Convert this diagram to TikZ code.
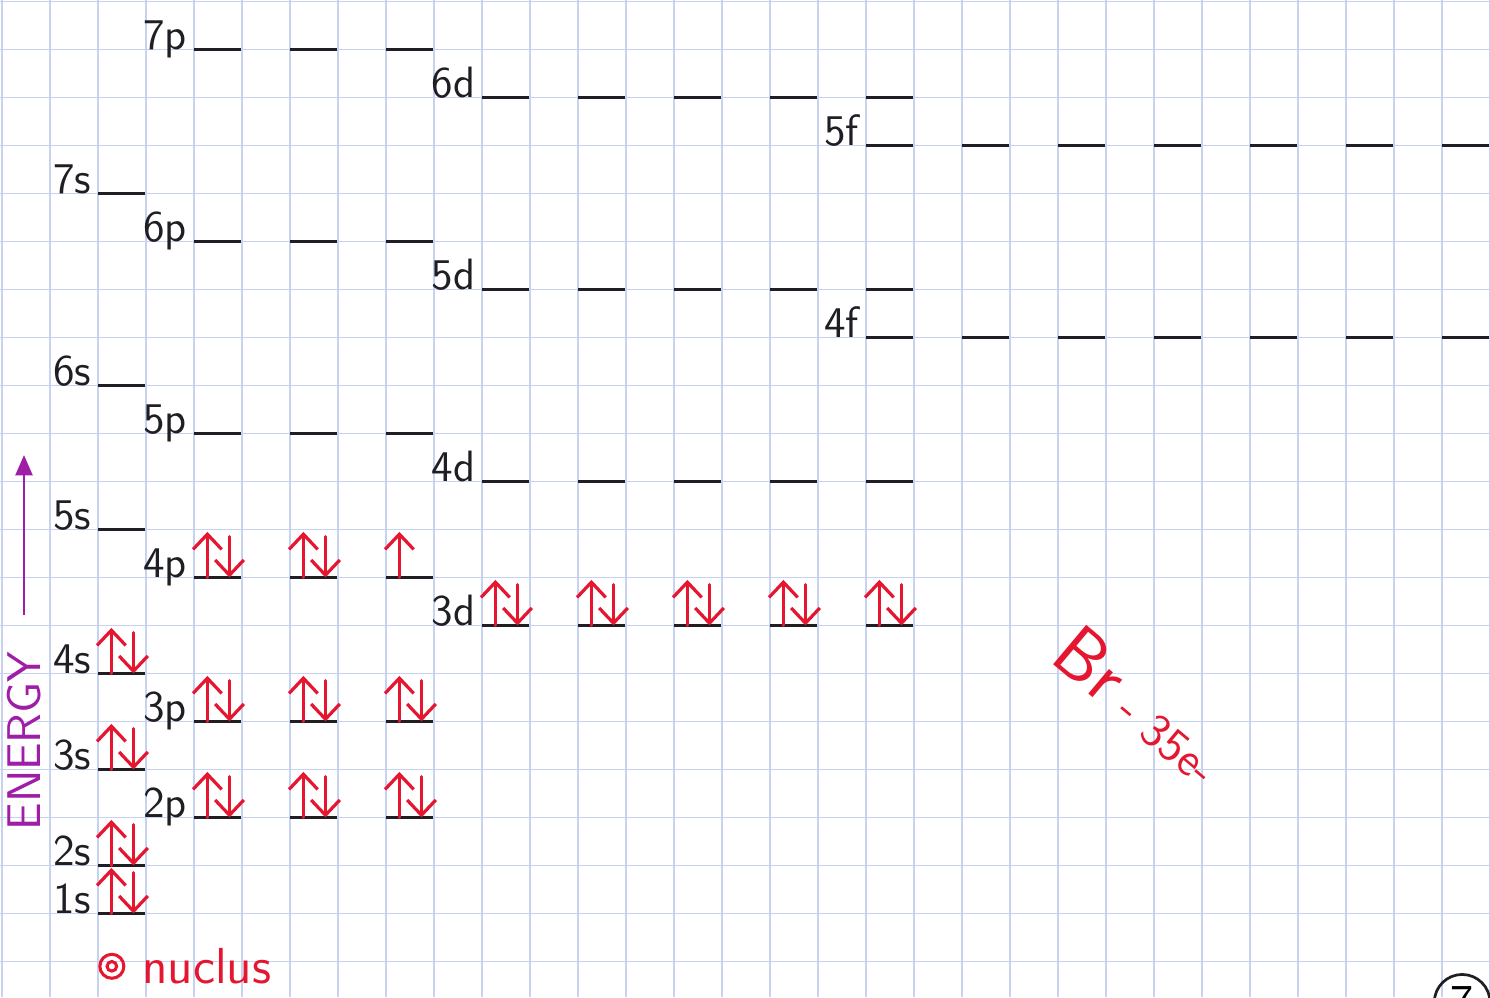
\documentclass[tikz,border=0pt]{standalone}
\usepackage{fontspec}
\usepackage{xcolor}
\usepackage{tikz}
\usetikzlibrary{arrows.meta,positioning,calc}
\definecolor{gridblue}{RGB}{198,210,238}
\definecolor{penred}{RGB}{228,22,48}
\definecolor{penviolet}{RGB}{158,30,168}
\definecolor{penblack}{RGB}{30,30,36}
\newcommand{\fullorb}[2]{%
  \draw[spin] (#1+0.28,-#2) -- ++(0,0.95);
  \draw[spin] (#1+0.74,-#2+0.85) -- ++(0,-0.85);}
\newcommand{\halforb}[2]{\draw[spin] (#1+0.28,-#2) -- ++(0,0.95);}

\begin{document}
\begin{tikzpicture}[
    x=0.5cm, y=0.5cm,
    gridline/.style={draw=gridblue, line width=0.35pt},
    level/.style={draw=penblack, line width=0.9pt},
    lbl/.style={font=\sffamily\fontsize{13}{15}\selectfont, text=penblack, inner sep=0pt},
    spin/.style={draw=penred, line width=0.95pt, line cap=round, -{Straight Barb[length=4.5pt,width=8.5pt,line width=0.95pt]}},
    energyarrow/.style={draw=penviolet, line width=0.8pt, -{Triangle[length=6pt,width=5pt]}},
    energytxt/.style={text=penviolet, font=\sffamily\fontsize{14}{16}\selectfont, inner sep=0pt},
    handred/.style={text=penred, inner sep=0pt},
    nucring/.style={circle, draw=penred, line width=0.9pt, inner sep=0pt},
    pagemark/.style={circle, draw=penblack, line width=0.8pt, minimum size=0.58cm, inner sep=0pt, font=\sffamily\fontsize{14}{16}\selectfont}
]
\useasboundingbox (-0.04,0.03) rectangle (31.0,-20.74);
\fill[white] (-0.04,0.03) rectangle (31.0,-20.74);
\draw[gridline, step=0.5cm] (-0.04,0.03) grid (31.0,-20.74);

\foreach \n/\k/\cols in {7p/1/{4,6,8}, 6d/2/{10,12,14,16,18}, 5f/3/{18,20,22,24,26,28,30},
    7s/4/{2}, 6p/5/{4,6,8}, 5d/6/{10,12,14,16,18}, 4f/7/{18,20,22,24,26,28,30},
    6s/8/{2}, 5p/9/{4,6,8}, 4d/10/{10,12,14,16,18}, 5s/11/{2}, 4p/12/{4,6,8},
    3d/13/{10,12,14,16,18}, 4s/14/{2}, 3p/15/{4,6,8}, 3s/16/{2}, 2p/17/{4,6,8},
    2s/18/{2}, 1s/19/{2}}{
  \foreach \c [count=\i] in \cols {
    \ifnum\i=1 \node[lbl, anchor=base east] (l\n) at (\c-0.13,-\k) {\n}; \fi
    \draw[level] (\c,-\k) -- ++(0.98,0);
  }
}

\fullorb{2}{19}
\fullorb{2}{18}
\fullorb{4}{17} \fullorb{6}{17} \fullorb{8}{17}
\fullorb{2}{16}
\fullorb{4}{15} \fullorb{6}{15} \fullorb{8}{15}
\fullorb{2}{14}
\fullorb{10}{13} \fullorb{12}{13} \fullorb{14}{13} \fullorb{16}{13} \fullorb{18}{13}
\fullorb{4}{12} \fullorb{6}{12} \halforb{8}{12}

\coordinate (ebot) at (0.46,-12.78);
\coordinate (etop) at (0.46,-9.45);
\draw[energyarrow] (ebot) -- (etop);
\node[energytxt, rotate=90] (energy) at (0.46,-15.41) {ENERGY};

\node[nucring, minimum size=0.25cm] (nuc) at (2.29,-20.1) {};
\node[nucring, minimum size=0.1cm] (nucin) at (nuc) {};
\node[handred, right=0.17cm of nuc, font=\sffamily\fontsize{15}{17}\selectfont] (nuctext) {nuclus};

\node[handred, rotate=-40, anchor=base west, font=\sffamily] (elem) at (21.79,-13.72)
  {{\fontsize{22}{24}\selectfont Br}{\fontsize{14}{16}\selectfont\ - 35e-}};

\node[pagemark] (page) at (30.42,-20.85) {7};
\end{tikzpicture}
\end{document}
